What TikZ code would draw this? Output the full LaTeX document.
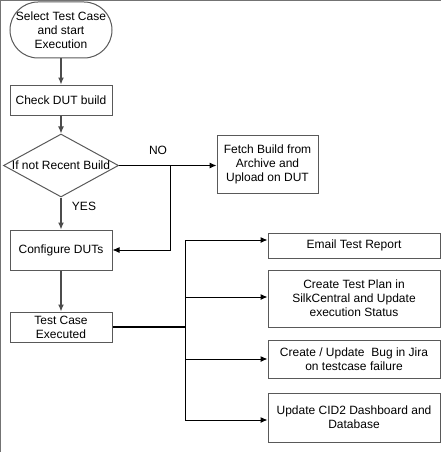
\documentclass[tikz,border=0pt]{standalone}
\usepackage{fontspec}
\setmainfont{Liberation Sans}
\usetikzlibrary{shapes.geometric,arrows.meta}

\begin{document}
\begin{tikzpicture}[x=1pt,y=-1pt,line width=1pt,>={Latex[length=7pt,width=6pt]},
    font=\fontsize{12}{14}\selectfont,
    box/.style={rectangle,draw=black!65,line width=1pt,align=center,inner sep=0pt},
    term/.style={box,rounded corners=28pt},
    flow/.style={->,draw=black!70,line width=1.2pt}]
    \useasboundingbox (0,0) rectangle (441,452);
    \draw[black!55,line width=1.5pt] (0.5,452) -- (0.5,0.5) -- (441,0.5);
    % left column
    \node (start) at (61,30) [term,minimum width=102pt,minimum height=56pt] {Select Test Case\\and start\\Execution};
    \node (check) at (61,100) [box,minimum width=102pt,minimum height=30pt] {Check DUT build};
    \node (decide) at (61,165.5) [diamond,draw=black!65,line width=1pt,inner sep=0pt,minimum width=115pt,minimum height=63pt] {\makebox[0pt]{If not Recent Build}};
    \node (config) at (61,250) [box,minimum width=102pt,minimum height=40pt] {Configure DUTs};
    \node (exec) at (61,327) [box,minimum width=102pt,minimum height=30pt] {Test Case\\Executed};
    \node (fetch) at (267.5,164) [box,minimum width=101pt,minimum height=58pt] {Fetch Build from\\Archive and\\Upload on DUT};
    \node (lblno) at (158,150) {NO};
    \node (lblyes) at (84,206) {YES};
    % right column
    \node (email) at (354,245.5) [box,minimum width=172pt,minimum height=25pt] {Email Test Report};
    \node (plan) at (354,298.5) [box,minimum width=172pt,minimum height=57pt] {Create Test Plan in\\SilkCentral and Update\\execution Status};
    \node (bug) at (354,359) [box,minimum width=172pt,minimum height=38pt] {Create / Update\ \ Bug in Jira\\on testcase failure};
    \node (cid) at (354,417.5) [box,minimum width=172pt,minimum height=49pt] {Update CID2 Dashboard and\\Database};
    \draw[flow] (start) -- (check);
    \draw[flow] (check) -- (decide);
    \draw[flow] (decide) -- (config);
    \draw[flow] (config) -- (exec);
    \draw[->] (decide.east) -- (decide.east -| fetch.west);
    \coordinate (split) at (170,165.5);
    \draw[->] (split) |- (config.east);
    \coordinate (b1) at (185,240);
    \coordinate (b2) at (185,297);
    \coordinate (b3) at (185,359);
    \coordinate (b4) at (185,420);
    \draw[line width=2pt] (exec.east) -- (exec.east -| b1);
    \draw (b1) -- (b4);
    \foreach \b/\t in {b1/email,b2/plan,b3/bug,b4/cid}
        \draw[->] (\b) -- (\b -| \t.west);
\end{tikzpicture}
\end{document}
